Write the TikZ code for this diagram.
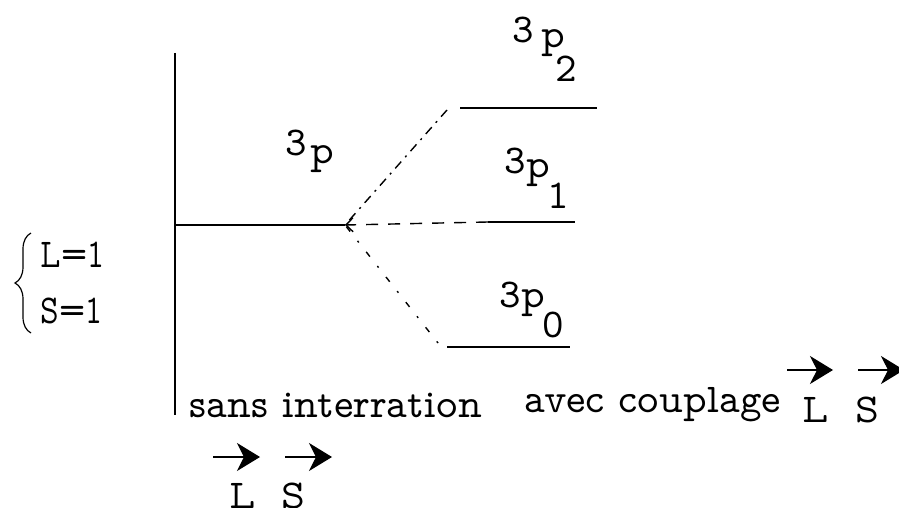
\documentclass[tikz,border=0pt]{standalone}
\usepackage{fontspec}
\newfontfamily\levfont{lmmonoprop10-regular.otf}
\newfontfamily\qnfont[FakeStretch=0.78]{lmmonoprop10-regular.otf}
\usetikzlibrary{arrows.meta,decorations.pathreplacing}
\begin{document}
\begin{tikzpicture}[
  x=1pt, y=-1pt, line width=1.5pt,
  every node/.style={inner sep=0pt, anchor=base west, font=\levfont\fontsize{41}{43}\selectfont},
  qnum/.style={font=\qnfont\fontsize{41}{43}\selectfont},
  splitA/.style={line width=1.4pt, dash pattern=on 9pt off 6pt on 2pt off 6pt},
  splitB/.style={line width=1.4pt, dash pattern=on 12pt off 10pt},
  splitC/.style={line width=1.4pt, dash pattern=on 2pt off 12pt on 6pt off 12pt},
  vecarrow/.style={line width=1.2pt, -{Stealth[length=23pt,width=28pt,inset=7pt]}}
]
  \useasboundingbox (0,0) rectangle (899,508);

  % axis and levels
  \coordinate (A0) at (175,53);
  \coordinate (A1) at (175,415);
  \coordinate (E)  at (175,225);
  \coordinate (J)  at (345,225);
  \coordinate (T0) at (460,108);
  \coordinate (T1) at (597,108);
  \coordinate (M0) at (488,222);
  \coordinate (M1) at (575,222);
  \coordinate (B0) at (447,347);
  \coordinate (B1) at (570,347);
  \coordinate (Tj) at (447,110);
  \coordinate (Bj) at (438,343);

  \draw (A0) -- (A1);
  \draw (E) -- (J);
  \draw (T0) -- (T1);
  \draw (M0) -- (M1);
  \draw (B0) -- (B1);

  % splitting
  \draw[splitA] (Tj) -- (J);
  \draw[splitB, -{Straight Barb[length=7pt,width=14pt]}] (M0) -- (J);
  \draw[splitC] (Bj) -- (J);

  % labels of the levels
  \node (lP)  at (285,163) {\raisebox{8pt}{3}\kern3pt p};
  \node (lP2) at (512,48)  {\raisebox{5pt}{3}\kern7pt p\kern-10pt\raisebox{-34pt}{2}};
  \node (lP1) at (504,177) {\raisebox{4pt}{3}\kern0pt p\kern-3pt\raisebox{-31pt}{1}};
  \node (lP0) at (499,307) {\raisebox{0pt}{3}\kern0pt p\kern-3pt\raisebox{-30pt}{0}};

  % quantum numbers
  \coordinate (bb) at (31,333);
  \coordinate (bt) at (31,233);
  \draw[line width=1.2pt, decorate, decoration={brace, amplitude=16pt}] (bb) -- (bt);
  \node[qnum] (nL) at (40,267) {L=1};
  \node[qnum] (nS) at (40,323) {S=1};

  % captions
  \node (sans) at (189,417) {sans interration};
  \node (avec) at (524,412) {avec couplage};
  \node (cL)   at (802,422) {L};
  \node (cS)   at (855,422) {S};
  \node (sL)   at (229,508) {L};
  \node (sS)   at (281,508) {S};

  % vector arrows
  \coordinate (cL0) at (787,370);
  \coordinate (cL1) at (833,370);
  \coordinate (cS0) at (858,370);
  \coordinate (cS1) at (904,370);
  \coordinate (sL0) at (213,457);
  \coordinate (sL1) at (260,457);
  \coordinate (sS0) at (285,457);
  \coordinate (sS1) at (332,457);
  \draw[vecarrow] (cL0) -- (cL1);
  \draw[vecarrow] (cS0) -- (cS1);
  \draw[vecarrow] (sL0) -- (sL1);
  \draw[vecarrow] (sS0) -- (sS1);
\end{tikzpicture}
\end{document}
